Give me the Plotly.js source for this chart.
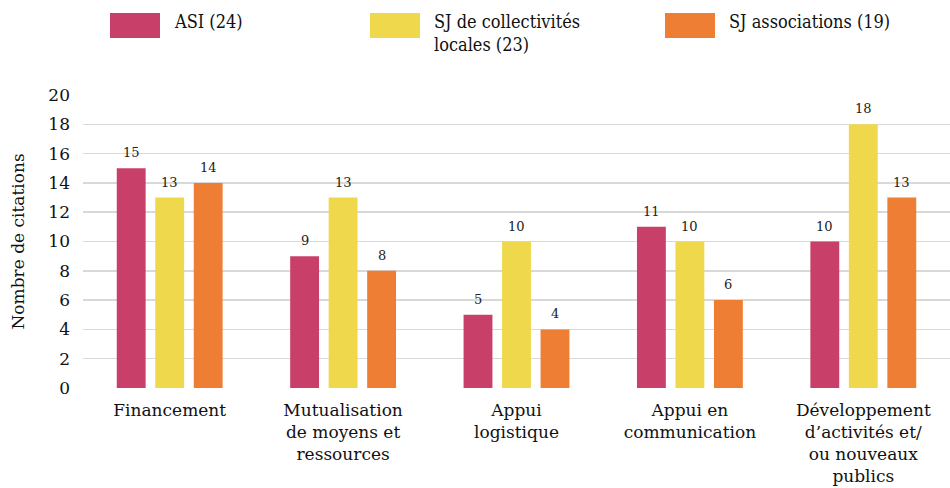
<!DOCTYPE html>
<html><head><meta charset="utf-8">
<script src="https://cdn.plot.ly/plotly-3.0.1.min.js"></script>
<style>body{margin:0;background:#fff}#c{width:950px;height:488px}</style>
</head><body><div id="c"></div>
<script>
const categories = ["Financement","Mutualisation<br>de moyens et<br>ressources","Appui<br>logistique","Appui en<br>communication","Développement<br>d’activités et/<br>ou nouveaux<br>publics"];
const seriesNames = ["ASI (24)","SJ de collectivités<br>locales (23)","SJ associations (19)"];
const asi = [15,9,5,11,10];
const sjColl = [13,13,10,10,18];
const sjAssoc = [14,8,4,6,13];
const yTicks = [0,2,4,6,8,10,12,14,16,18,20];

const colors = ["#C8406A","#EFD84C","#EE7E33"];
const values = [asi, sjColl, sjAssoc];
const bargap = 0.334, groupgap = 0.25;
const slot = (1 - bargap) / 3;
const font = "DejaVu Serif";

const traces = values.map((v,i)=>({
  type:'bar', x: categories.map((c,k)=>k), y: v, name: seriesNames[i],
  marker:{color:colors[i]}, showlegend:false, hoverinfo:'none'
}));

const annotations = [];
values.forEach((v,i)=>{
  v.forEach((val,k)=>{
    annotations.push({x: k + (i-1)*slot, y: val, xref:'x', yref:'y', text: String(val),
      showarrow:false, yanchor:'bottom', yshift:6, font:{family:font,size:13,color:'#222'}});
  });
});
// legend
const legX = [110, 370, 665];
const shapes = [];
seriesNames.forEach((n,i)=>{
  shapes.push({type:'rect', xref:'paper', yref:'paper',
    x0:(legX[i]-83)/867, x1:(legX[i]+50-83)/867, y0:(388-13)/293, y1:(388-38)/293,
    fillcolor:colors[i], line:{width:0}});
  annotations.push({xref:'paper', yref:'paper', x:(legX[i]+62-83)/867, y:(388-9)/293,
    xanchor:'left', yanchor:'top', align:'left', showarrow:false, text:n,
    font:{family:"DejaVu Serif Condensed", size:18, color:'#111'}});
});
annotations.push({xref:'paper', yref:'paper', x:-66/867, y:0.5, textangle:-90, showarrow:false,
  text:'Nombre de citations', font:{family:font,size:17,color:'#111'}, xanchor:'center', yanchor:'middle'});

const layout = {
  width:950, height:488, margin:{l:83,r:0,t:95,b:100},
  paper_bgcolor:'#fff', plot_bgcolor:'#fff',
  barmode:'group', bargap:bargap, bargroupgap:groupgap,
  font:{family:font, color:'#111'},
  xaxis:{type:'linear', range:[-0.5,4.5], tickvals:[0,1,2,3,4], ticktext:categories, showgrid:false,
    zeroline:false, showline:false, ticks:'', tickfont:{family:font,size:17,color:'#111'}, ticklabelstandoff:10},
  yaxis:{range:[0,20], tickvals:yTicks, showgrid:true, gridcolor:'#D9D9D9', gridwidth:1.5,
    zeroline:false, showline:false, ticks:'', tickfont:{family:font,size:17,color:'#111'}, ticklabelstandoff:12},
  shapes:shapes, annotations:annotations
};
Plotly.newPlot('c', traces, layout, {displayModeBar:false, staticPlot:true});
</script></body></html>
